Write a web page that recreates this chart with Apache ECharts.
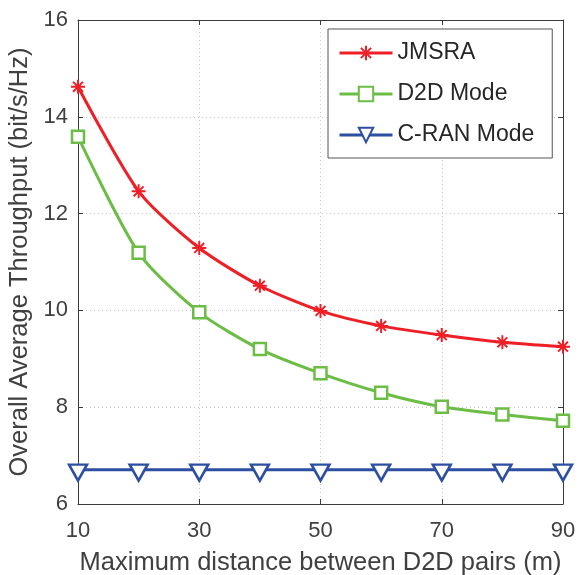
<!DOCTYPE html>
<html>
<head>
<meta charset="utf-8">
<script src="https://cdn.jsdelivr.net/npm/echarts@6/dist/echarts.min.js"></script>
<style>html,body{margin:0;padding:0;background:#fff}#c{width:580px;height:575px}</style>
</head>
<body>
<div id="c"></div>
<script>
const distances = [10, 20, 30, 40, 50, 60, 70, 80, 90];
const jmsra = [14.62, 12.46, 11.29, 10.51, 9.99, 9.68, 9.49, 9.34, 9.25];
const d2dMode = [13.59, 11.19, 9.96, 9.20, 8.70, 8.30, 8.01, 7.85, 7.72];
const cranMode = [6.71, 6.71, 6.71, 6.71, 6.71, 6.71, 6.71, 6.71, 6.71];
const seriesNames = ['JMSRA', 'D2D Mode', 'C-RAN Mode'];
const xTitle = 'Maximum distance between D2D pairs (m)';
const yTitle = 'Overall Average Throughput (bit/s/Hz)';

const pairs = arr => distances.map((d, i) => [d, arr[i]]);
const asterisk = 'path://M-1,-0.14L1,-0.14L1,0.14L-1,0.14Z' +
  'M-0.14,-1L0.14,-1L0.14,1L-0.14,1Z' +
  'M-0.608,-0.806L0.806,0.608L0.608,0.806L-0.806,-0.608Z' +
  'M0.806,-0.608L-0.608,0.806L-0.806,0.608L0.608,-0.806Z';
const triDown = 'path://M0,0L20,0L10,17.3Z';

const axisColor = '#3a3a3a';
const textColor = '#404040';
const font = 'Liberation Sans, Arial, Helvetica, sans-serif';

const chart = echarts.init(document.getElementById('c'), null, {renderer: 'canvas'});
chart.setOption({
  animation: false,
  backgroundColor: '#fff',
  grid: {left: 78, right: 17, top: 20, bottom: 71, containLabel: false, outerBoundsMode: 'none'},
  legend: {
    orient: 'vertical',
    left: 328, top: 29,
    padding: [12, 18, 11, 10],
    itemGap: 17,
    itemWidth: 53, itemHeight: 18,
    backgroundColor: '#fff',
    borderColor: '#555', borderWidth: 1,
    lineStyle: {width: 3},
    textStyle: {fontSize: 23, fontFamily: font, color: '#262626', lineHeight: 24},
    data: seriesNames
  },
  xAxis: [{
    type: 'value', min: 10, max: 90, interval: 20,
    name: xTitle, nameLocation: 'middle', nameGap: 46,
    nameTextStyle: {fontSize: 25.5, fontFamily: font, color: textColor},
    axisLine: {show: true, onZero: false, lineStyle: {color: axisColor, width: 1}},
    axisTick: {show: true, inside: true, length: 5, lineStyle: {color: axisColor}},
    axisLabel: {fontSize: 22, fontFamily: font, color: textColor, margin: 16},
    splitLine: {show: true, lineStyle: {color: '#c8c8c8', type: [1, 3], width: 1}}
  }, {
    type: 'value', min: 10, max: 90, interval: 20, position: 'top',
    axisLine: {show: true, onZero: false, lineStyle: {color: axisColor, width: 1}},
    axisTick: {show: true, inside: true, length: 5, lineStyle: {color: axisColor}},
    axisLabel: {show: false}, splitLine: {show: false}
  }],
  yAxis: [{
    type: 'value', min: 6, max: 16, interval: 2,
    name: yTitle, nameLocation: 'middle', nameGap: 42,
    nameTextStyle: {fontSize: 25.5, fontFamily: font, color: textColor},
    axisLine: {show: true, onZero: false, lineStyle: {color: axisColor, width: 1}},
    axisTick: {show: true, inside: true, length: 5, lineStyle: {color: axisColor}},
    axisLabel: {fontSize: 22, fontFamily: font, color: textColor, margin: 10},
    splitLine: {show: true, lineStyle: {color: '#c8c8c8', type: [1, 3], width: 1}}
  }, {
    type: 'value', min: 6, max: 16, interval: 2, position: 'right',
    axisLine: {show: true, onZero: false, lineStyle: {color: axisColor, width: 1}},
    axisTick: {show: true, inside: true, length: 5, lineStyle: {color: axisColor}},
    axisLabel: {show: false}, splitLine: {show: false}
  }],
  series: [{
    name: seriesNames[0], type: 'line', data: pairs(jmsra),
    smooth: 0.25, symbol: asterisk, symbolSize: 14,
    lineStyle: {color: '#ee1f26', width: 3},
    itemStyle: {color: '#ee1f26', borderWidth: 0},
    z: 4
  }, {
    name: seriesNames[1], type: 'line', data: pairs(d2dMode),
    smooth: 0.25, symbol: 'rect', symbolSize: 12,
    lineStyle: {color: '#6cbd45', width: 3},
    itemStyle: {color: '#ffffff', borderColor: '#6cbd45', borderWidth: 2.5},
    z: 3
  }, {
    name: seriesNames[2], type: 'line', data: pairs(cranMode),
    symbol: triDown, symbolSize: [18, 16], symbolOffset: [0, 3],
    lineStyle: {color: '#2d4fa1', width: 3},
    itemStyle: {color: '#ffffff', borderColor: '#2d4fa1', borderWidth: 2.5},
    z: 2
  }]
});
</script>
</body>
</html>
